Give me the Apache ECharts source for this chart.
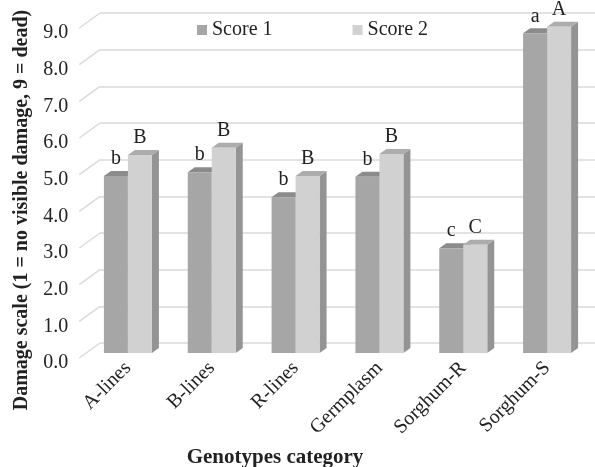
<!DOCTYPE html>
<html>
<head>
<meta charset="utf-8">
<script src="https://cdn.jsdelivr.net/npm/echarts@6/dist/echarts.min.js"></script>
<style>
  html, body { margin: 0; padding: 0; background: #ffffff; }
  #chart { width: 595px; height: 467px; }
</style>
</head>
<body>
<div id="chart"></div>
<script>
// Genotype categories and the two damage scores
const categories = ['A-lines', 'B-lines', 'R-lines', 'Germplasm', 'Sorghum-R', 'Sorghum-S'];
const score1 = [4.83, 4.93, 4.25, 4.81, 2.86, 8.72];
const score2 = [5.40, 5.60, 4.83, 5.43, 2.95, 8.90];
const letters1 = ['b', 'b', 'b', 'b', 'c', 'a'];
const letters2 = ['B', 'B', 'B', 'B', 'C', 'A'];
const yTicks = [0, 1, 2, 3, 4, 5, 6, 7, 8, 9];

const FONT = '"Liberation Serif", "Times New Roman", serif';
const TEXT_COLOR = '#222222';
const GRID_COLOR = '#dadada';

// pseudo-3D geometry (pixels)
const BAR_W = 24;                    // width of one bar face
const BAR_DX = 7, BAR_DY = -5;       // bar depth
const WALL_DX = 20.7, WALL_DY = -15; // side wall depth

const palette = [
  { front: '#a6a6a6', top: '#8b8b8b', side: '#7d7d7d' },
  { front: '#d1d1d1', top: '#acacac', side: '#949494' }
];

function barRenderer(which, letters) {
  const c = palette[which];
  return function (params, api) {
    const idx = api.value(0);
    const v = api.value(1);
    const top = api.coord([idx, v]);
    const base = api.coord([idx, 0]);
    const x0 = which === 0 ? top[0] - BAR_W : top[0];
    const x1 = x0 + BAR_W;
    const yT = top[1], yB = base[1];
    return {
      type: 'group',
      children: [
        { type: 'polygon', shape: { points: [[x1, yT], [x1 + BAR_DX, yT + BAR_DY], [x1 + BAR_DX, yB + BAR_DY], [x1, yB]] },
          style: { fill: c.side } },
        { type: 'polygon', shape: { points: [[x0, yT], [x0 + BAR_DX, yT + BAR_DY], [x1 + BAR_DX, yT + BAR_DY], [x1, yT]] },
          style: { fill: c.top } },
        { type: 'rect', shape: { x: x0, y: yT, width: BAR_W, height: yB - yT },
          style: { fill: c.front } },
        { type: 'text', z2: 10,
          style: { text: letters[params.dataIndex], x: (x0 + x1) / 2, y: yT - 7,
                   align: 'center', verticalAlign: 'bottom',
                   fontSize: 20, fontFamily: FONT, fill: TEXT_COLOR } }
      ]
    };
  };
}

function wallRenderer(params, api) {
  const p = api.coord([0, api.value(1)]);
  const band = api.size([1, 0])[0];
  const x = p[0] - band / 2;
  return {
    type: 'line',
    shape: { x1: x, y1: p[1], x2: x + WALL_DX, y2: p[1] + WALL_DY },
    style: { stroke: GRID_COLOR, lineWidth: 1.5 }
  };
}

const chart = echarts.init(document.getElementById('chart'), null, { renderer: 'canvas' });

const valueAxisBase = { type: 'value', min: 0, max: 9, interval: 1 };
const hiddenCat = { type: 'category', data: categories, show: false, boundaryGap: true };

chart.setOption({
  backgroundColor: '#ffffff',
  animation: false,
  legend: {
    left: 192, top: 15,
    itemWidth: 10, itemHeight: 10, itemGap: 80,
    icon: 'rect',
    textStyle: { fontSize: 20, fontFamily: FONT, color: TEXT_COLOR },
    data: ['Score 1', 'Score 2']
  },
  grid: [
    { left: 79.3, top: 28, width: 503, height: 330 },  // front edge of the side wall
    { left: 86, top: 23, width: 503, height: 330 },    // bar plane
    { left: 100, top: 13, width: 503, height: 330 },   // back wall
    { left: 79.3, top: 33, width: 503, height: 330 }   // value labels
  ],
  xAxis: [
    Object.assign({ gridIndex: 0 }, hiddenCat),
    { type: 'category', data: categories, gridIndex: 1, boundaryGap: true,
      axisLine: { show: false }, axisTick: { show: false },
      axisLabel: { rotate: 45, margin: 12, fontSize: 20, fontFamily: FONT, color: TEXT_COLOR, interval: 0 } },
    Object.assign({ gridIndex: 2 }, hiddenCat),
    Object.assign({ gridIndex: 3 }, hiddenCat)
  ],
  yAxis: [
    Object.assign({ gridIndex: 0, show: false }, valueAxisBase),
    Object.assign({ gridIndex: 1, show: false }, valueAxisBase),
    Object.assign({ gridIndex: 2,
      axisLine: { show: false }, axisTick: { show: false }, axisLabel: { show: false },
      splitLine: { show: true, lineStyle: { color: GRID_COLOR, width: 1.5 } } }, valueAxisBase),
    Object.assign({ gridIndex: 3,
      axisLine: { show: false }, axisTick: { show: false }, splitLine: { show: false },
      axisLabel: { margin: 11, fontSize: 20, fontFamily: FONT, color: TEXT_COLOR,
                   formatter: v => v.toFixed(1) } }, valueAxisBase)
  ],
  graphic: [
    { type: 'text', x: 22, y: 210, rotation: Math.PI / 2,
      style: { text: 'Damage scale (1 = no visible damage, 9 = dead)', align: 'center', verticalAlign: 'middle',
               fontSize: 20, fontWeight: 'bold', fontFamily: FONT, fill: TEXT_COLOR } },
    { type: 'text', x: 275, y: 458,
      style: { text: 'Genotypes category', align: 'center', verticalAlign: 'middle',
               fontSize: 21, fontWeight: 'bold', fontFamily: FONT, fill: TEXT_COLOR } }
  ],
  series: [
    { type: 'custom', name: 'wall', xAxisIndex: 0, yAxisIndex: 0, silent: true, z: 1,
      renderItem: wallRenderer, data: yTicks.map(v => [0, v]) },
    { type: 'custom', name: 'Score 1', xAxisIndex: 1, yAxisIndex: 1, z: 3,
      itemStyle: { color: palette[0].front },
      renderItem: barRenderer(0, letters1), data: score1.map((v, i) => [i, v]) },
    { type: 'custom', name: 'Score 2', xAxisIndex: 1, yAxisIndex: 1, z: 4,
      itemStyle: { color: palette[1].front },
      renderItem: barRenderer(1, letters2), data: score2.map((v, i) => [i, v]) }
  ]
});
</script>
</body>
</html>
